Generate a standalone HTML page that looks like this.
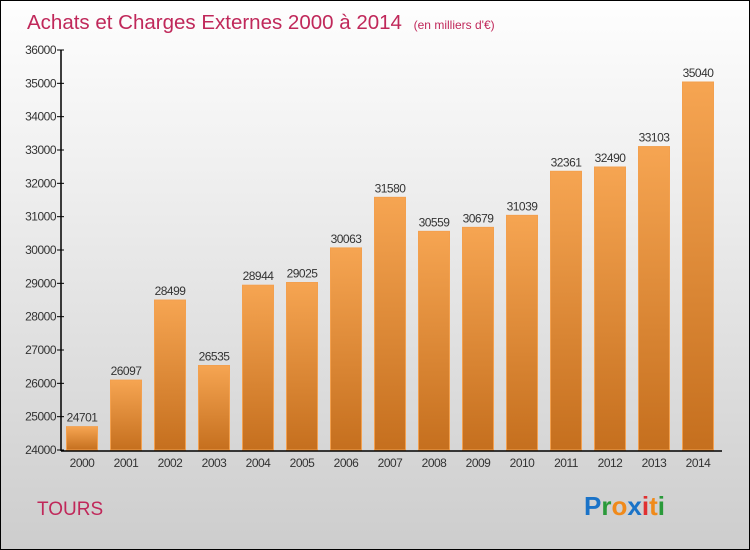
<!DOCTYPE html>
<html><head><meta charset="utf-8"><style>
body{margin:0}
#c{position:relative;width:748px;height:548px;border:1px solid #000;background:linear-gradient(#fefefe,#f0f0f0 30%,#cdcdcd);font-family:"Liberation Sans",sans-serif;overflow:hidden}
</style></head><body>
<div id="c">
<svg width="748" height="548">
<defs><linearGradient id="g" x1="0" y1="0" x2="0" y2="1"><stop offset="0" stop-color="#f6a552"/><stop offset="1" stop-color="#c56f1e"/></linearGradient></defs>
<text x="26" y="28" font-size="20.5" fill="#c0285a">Achats et Charges Externes 2000 à 2014 <tspan font-size="12" dx="6">(en milliers d'€)</tspan></text>
<g id="plot"></g>
<text x="36" y="514" font-size="19" fill="#c0285a">TOURS</text>
<text x="583" y="514" font-size="26" font-weight="bold"><tspan fill="#1a73c8">P</tspan><tspan fill="#2a9a3a">r</tspan><tspan fill="#f08a1a">o</tspan><tspan fill="#1a73c8">x</tspan><tspan fill="#e03030">i</tspan><tspan fill="#f08a1a">t</tspan><tspan fill="#2a9a3a">i</tspan></text>
</svg></div>
<script>
const years=["2000","2001","2002","2003","2004","2005","2006","2007","2008","2009","2010","2011","2012","2013","2014"];
const values=[24701,26097,28499,26535,28944,29025,30063,31580,30559,30679,31039,32361,32490,33103,35040];
const ticks=[24000,25000,26000,27000,28000,29000,30000,31000,32000,33000,34000,35000,36000];
const NS="http://www.w3.org/2000/svg";
const g=document.getElementById('plot');
const y=v=>449-(v-24000)*400/12000;
const x=i=>81+i*44;
function mk(t,a,txt){const e=document.createElementNS(NS,t);for(const k in a)e.setAttribute(k,a[k]);if(txt!=null)e.textContent=txt;g.appendChild(e);return e;}
ticks.forEach(t=>{
 const l=mk('line',{x1:56,x2:63,y1:y(t),y2:y(t),stroke:'#000'});
 
 
 const tx=mk('text',{x:55,y:y(t)+4,'font-size':12,'text-anchor':'end',fill:'#333','letter-spacing':'-0.5'},t);
 
 
});
values.forEach((v,i)=>{
 const r=mk('rect',{x:x(i)-15.5,y:y(v),width:31,height:449-y(v),fill:'url(#g)',stroke:'#f3a04e','stroke-width':1});
 
 
 const vl=mk('text',{x:x(i),y:y(v)-5,'font-size':12,'text-anchor':'middle',fill:'#333','letter-spacing':'-0.5'},v);
 
 
 const xl=mk('text',{x:x(i),y:466,'font-size':12,'text-anchor':'middle',fill:'#333','letter-spacing':'-0.5'},years[i]);
 
 
});
const ya=mk('line',{x1:60,x2:60,y1:y(36000),y2:450,stroke:'#000','stroke-width':1.5});


const xa=mk('line',{x1:60,x2:721,y1:450,y2:450,stroke:'#000','stroke-width':1.5});


</script>
</body></html>
